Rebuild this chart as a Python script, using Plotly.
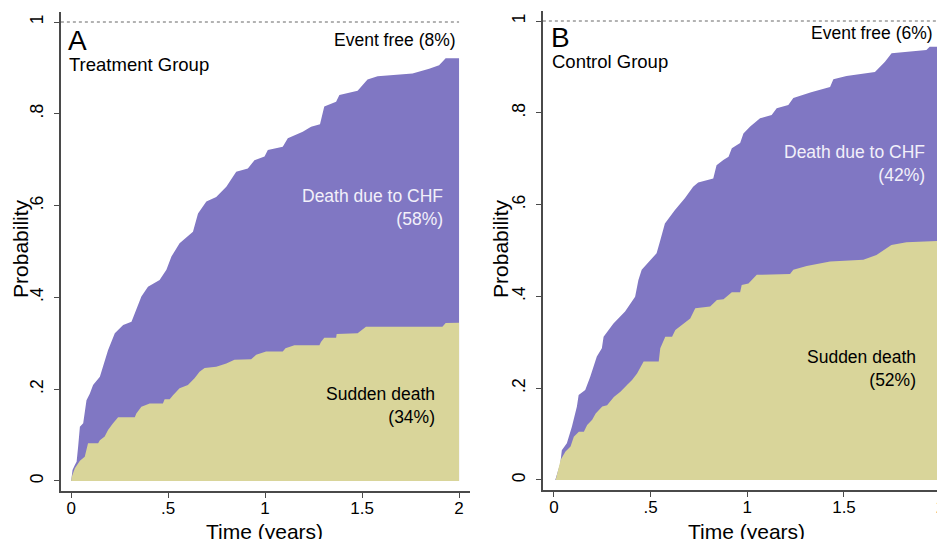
import plotly.graph_objects as go

# ---------------- data ----------------
# Panel A: Treatment group (cumulative incidence, stacked)
a_total_t = [0, 0.007, 0.019, 0.028, 0.036, 0.045, 0.062, 0.079, 0.096, 0.113,
             0.148, 0.165, 0.19, 0.225, 0.268, 0.311, 0.336, 0.362, 0.396, 0.456,
             0.491, 0.517, 0.559, 0.628, 0.654, 0.697, 0.748, 0.8, 0.851, 0.911,
             0.945, 0.997, 1.014, 1.091, 1.117, 1.194, 1.237, 1.283, 1.305, 1.366,
             1.383, 1.477, 1.528, 1.58, 1.76, 1.846, 1.897, 1.931, 2.0]
a_total_v = [0, 0.024, 0.035, 0.042, 0.075, 0.118, 0.126, 0.176, 0.19, 0.209,
             0.227, 0.249, 0.285, 0.322, 0.34, 0.347, 0.376, 0.402, 0.423, 0.438,
             0.46, 0.489, 0.518, 0.543, 0.583, 0.609, 0.619, 0.641, 0.674, 0.681,
             0.699, 0.707, 0.721, 0.728, 0.747, 0.761, 0.772, 0.777, 0.816, 0.826,
             0.841, 0.85, 0.875, 0.882, 0.888, 0.898, 0.906, 0.921, 0.921]
a_sudden_t = [0, 0.003, 0.019, 0.045, 0.07, 0.087, 0.139, 0.148, 0.173, 0.19,
              0.216, 0.242, 0.328, 0.336, 0.362, 0.405, 0.473, 0.482, 0.508, 0.525,
              0.559, 0.602, 0.636, 0.662, 0.688, 0.748, 0.8, 0.842, 0.928, 0.954,
              1.005, 1.091, 1.105, 1.151, 1.28, 1.288, 1.305, 1.366, 1.369, 1.477,
              1.52, 1.914, 1.931, 2.0]
a_sudden_v = [0, 0.009, 0.028, 0.044, 0.053, 0.082, 0.082, 0.089, 0.097, 0.111,
              0.126, 0.139, 0.139, 0.147, 0.162, 0.169, 0.169, 0.178, 0.178, 0.187,
              0.202, 0.209, 0.224, 0.238, 0.246, 0.249, 0.256, 0.264, 0.265, 0.275,
              0.282, 0.282, 0.289, 0.296, 0.296, 0.303, 0.312, 0.312, 0.320, 0.322,
              0.336, 0.336, 0.344, 0.345]

# Panel B: Control group
b_total_t = [0.007, 0.033, 0.041, 0.067, 0.093, 0.119, 0.128, 0.162, 0.188, 0.222,
             0.248, 0.257, 0.308, 0.368, 0.42, 0.437, 0.454, 0.531, 0.548, 0.574,
             0.626, 0.677, 0.72, 0.746, 0.824, 0.841, 0.876, 0.903, 0.92, 0.963,
             0.98, 1.015, 1.066, 1.126, 1.152, 1.212, 1.238, 1.33, 1.428, 1.445,
             1.513, 1.66, 1.712, 1.746, 1.926, 1.943, 2.0]
b_total_v = [0, 0.036, 0.065, 0.08, 0.116, 0.16, 0.185, 0.196, 0.225, 0.269,
             0.287, 0.312, 0.341, 0.367, 0.399, 0.436, 0.458, 0.494, 0.519, 0.559,
             0.588, 0.614, 0.639, 0.648, 0.657, 0.686, 0.697, 0.704, 0.723, 0.734,
             0.755, 0.77, 0.788, 0.795, 0.81, 0.817, 0.832, 0.845, 0.856, 0.873,
             0.88, 0.889, 0.911, 0.93, 0.937, 0.944, 0.944]
b_sudden_t = [0.009, 0.035, 0.06, 0.086, 0.103, 0.129, 0.155, 0.172, 0.198, 0.216,
              0.25, 0.275, 0.31, 0.344, 0.378, 0.404, 0.43, 0.464, 0.542, 0.55,
              0.576, 0.611, 0.628, 0.663, 0.705, 0.731, 0.808, 0.843, 0.877, 0.903,
              0.92, 0.963, 0.971, 1.006, 1.049, 1.221, 1.238, 1.307, 1.428, 1.6,
              1.668, 1.745, 1.823, 2.0]
b_sudden_v = [0, 0.044, 0.062, 0.073, 0.094, 0.105, 0.105, 0.12, 0.131, 0.145,
              0.16, 0.163, 0.181, 0.192, 0.207, 0.218, 0.232, 0.258, 0.258, 0.287,
              0.312, 0.312, 0.327, 0.338, 0.352, 0.374, 0.378, 0.392, 0.394, 0.403,
              0.409, 0.409, 0.425, 0.428, 0.447, 0.449, 0.458, 0.466, 0.476, 0.48,
              0.49, 0.512, 0.518, 0.521]

x_tickvals = [0, 0.5, 1, 1.5, 2]
x_ticktext = ["0", ".5", "1", "1.5", "2"]
y_tickvals = [0, 0.2, 0.4, 0.6, 0.8, 1]
y_ticktext = ["0", ".2", ".4", ".6", ".8", "1"]

# ---------------- style ----------------
W, H = 945, 539
OFF = 8  # page body margin of the browser
PURPLE = "#8077C3"
KHAKI = "#D9D59A"
LIGHT = "#F2F0FA"
AXC = "#4a4a4a"
FONT = "Liberation Sans, Arial, Helvetica, sans-serif"

def px(x):
    return (x - OFF) / W

def py(y):
    return 1 - (y - OFF) / H

fig = go.Figure()

def add_panel(t_tot, v_tot, t_sd, v_sd, xa, ya):
    fig.add_trace(go.Scatter(x=t_tot, y=v_tot, mode="lines", line=dict(width=0, color=PURPLE),
                             fill="tozeroy", fillcolor=PURPLE, xaxis=xa, yaxis=ya,
                             hoverinfo="skip", showlegend=False))
    fig.add_trace(go.Scatter(x=t_sd, y=v_sd, mode="lines", line=dict(width=0, color=KHAKI),
                             fill="tozeroy", fillcolor=KHAKI, xaxis=xa, yaxis=ya,
                             hoverinfo="skip", showlegend=False))

add_panel(a_total_t, a_total_v, a_sudden_t, a_sudden_v, "x", "y")
add_panel(b_total_t, b_total_v, b_sudden_t, b_sudden_v, "x2", "y2")

xr_a = [-0.053, 2.055]
xr_b = [-0.057, 2.012]
yr = [-0.0218, 1.0218]

common_x = dict(tickvals=x_tickvals, ticktext=x_ticktext, ticks="outside", ticklen=5,
                tickwidth=1.2, tickcolor=AXC, showline=True, linecolor=AXC, linewidth=1.5,
                showgrid=False, zeroline=False, ticklabelstandoff=-4,
                tickfont=dict(size=17, color="black", family=FONT), fixedrange=True)
common_y = dict(tickvals=y_tickvals, ticktext=y_ticktext, ticks="outside", ticklen=5,
                tickwidth=1.2, tickcolor=AXC, showline=True, linecolor=AXC, linewidth=1.5,
                showgrid=False, zeroline=False, tickangle=-90, ticklabelstandoff=4,
                tickfont=dict(size=17.5, color="black", family=FONT), fixedrange=True)

fig.update_layout(
    width=W, height=H,
    margin=dict(l=0, r=0, t=0, b=0),
    paper_bgcolor="white", plot_bgcolor="white",
    font=dict(family=FONT, color="black"),
    xaxis=dict(domain=[px(61), px(470.7)], range=xr_a, anchor="y", **common_x),
    yaxis=dict(domain=[py(491), py(12)], range=yr, anchor="x", **common_y),
    xaxis2=dict(domain=[px(544), px(945)], range=xr_b, anchor="y2", **common_x),
    yaxis2=dict(domain=[py(490), py(11)], range=yr, anchor="x2", **common_y),
)

# dotted reference line at probability 1
for xa, ya, xr in (("x", "y", xr_a), ("x2", "y2", xr_b)):
    fig.add_shape(type="line", xref=xa, yref=ya, x0=xr[0], x1=2, y0=1, y1=1,
                  line=dict(color="#666666", width=1, dash="dot"))

def ann(text, x, y, size, xanchor="left", color="black", align="left"):
    fig.add_annotation(text=text, xref="paper", yref="paper", x=px(x), y=py(y),
                       xanchor=xanchor, yanchor="middle", showarrow=False, align=align,
                       font=dict(size=size, color=color, family=FONT))

# Panel A texts
ann("A", 66, 40, 28)
ann("Treatment Group", 67, 64, 18.5)
ann("Event free (8%)", 459, 40, 17.5, xanchor="right")
ann("Death due to CHF<br>(58%)", 446, 207, 17.5, xanchor="right", color=LIGHT, align="right")
ann("Sudden death<br>(34%)", 438, 405, 17.5, xanchor="right", align="right")
# Panel B texts
ann("B", 550, 37, 28)
ann("Control Group", 551, 61, 18.5)
ann("Event free (6%)", 937, 33, 17.5, xanchor="right")
ann("Death due to CHF<br>(42%)", 929, 163, 17.5, xanchor="right", color=LIGHT, align="right")
ann("Sudden death<br>(52%)", 920, 368, 17.5, xanchor="right", align="right")

# axis titles
for cx in (20, 501):
    fig.add_annotation(text="Probability", xref="paper", yref="paper", x=px(cx), y=py(248),
                       xanchor="center", yanchor="middle", showarrow=False, textangle=-90,
                       font=dict(size=21, color="black", family=FONT))
for cx in (265, 748):
    fig.add_annotation(text="Time (years)", xref="paper", yref="paper", x=px(cx), y=py(531),
                       xanchor="center", yanchor="middle", showarrow=False,
                       font=dict(size=21, color="black", family=FONT))

fig.write_html("out.html")
